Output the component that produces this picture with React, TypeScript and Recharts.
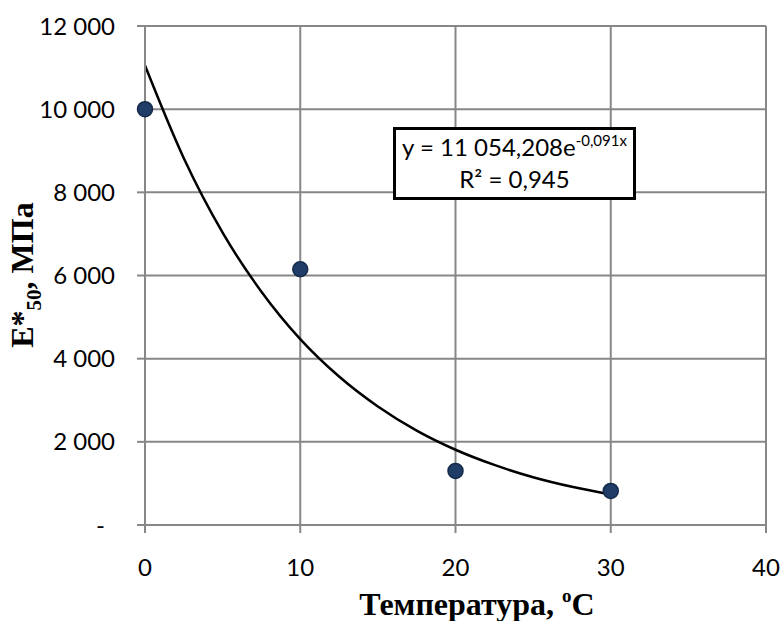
import React from "react";
import {
  ComposedChart,
  Scatter,
  Line,
  XAxis,
  YAxis,
  CartesianGrid,
} from "recharts";

// measured points: temperature (°C) vs E*50 (MPa)
const temperatures = [0, 10, 20, 30];
const modulus = [10000, 6150, 1300, 820];

// exponential trend line
const trendX = [0, 2.5, 5, 7.5, 10, 12.5, 15, 17.5, 20, 22.5, 25, 27.5, 30];
const trendY = [11050, 8820, 7030, 5610, 4470, 3570, 2850, 2270, 1810, 1445, 1150, 920, 735];

const xTicks = [0, 10, 20, 30, 40];
const yTicks = [0, 2000, 4000, 6000, 8000, 10000, 12000];

const equationText = "y = 11 054,208e";
const equationExp = "-0,091x";
const r2Text = "R² = 0,945";

const points = temperatures.map((t, i) => ({ x: t, y: modulus[i] }));
const trend = trendX.map((t, i) => ({ x: t, trend: trendY[i] }));

const gridColor = "#878787";
const tickFont = "Lato, 'Open Sans', sans-serif";
const titleFont = "'Liberation Serif', 'DejaVu Serif', serif";

const fmtY = (v: number) =>
  v === 0 ? "-" : v.toString().replace(/\B(?=(\d{3})+(?!\d))/g, " ");

function YTick(props: any) {
  const { x, y, payload } = props;
  const dash = payload.value === 0;
  return (
    <text
      x={dash ? x - 10 : x}
      y={y}
      dy="0.36em"
      textAnchor="end"
      fill="#000"
      fontSize={24}
      fontFamily={tickFont}
    >
      {fmtY(payload.value)}
    </text>
  );
}

function XTitle() {
  return (
    <text
      x={477}
      y={615}
      textAnchor="middle"
      fill="#000"
      fontSize={32}
      fontWeight="bold"
      fontFamily={titleFont}
    >
      Температура, <tspan fontSize={19} dy={-13}>o</tspan>
      <tspan dy={13}>C</tspan>
    </text>
  );
}

function YTitle() {
  return (
    <text
      transform="translate(33 275) rotate(-90)"
      textAnchor="middle"
      fill="#000"
      fontSize={32}
      fontWeight="bold"
      fontFamily={titleFont}
    >
      E*<tspan fontSize={21} dy={8}>50</tspan>
      <tspan dy={-8}>, МПа</tspan>
    </text>
  );
}

export default function App() {
  return (
    <div style={{ position: "absolute", left: 0, top: 0, width: 784, height: 621, background: "#fff" }}>
      <ComposedChart
        width={784}
        height={621}
        margin={{ top: 26, right: 18, left: 0, bottom: 0 }}
      >
        <CartesianGrid stroke={gridColor} strokeWidth={2} />
        <XAxis
          type="number"
          dataKey="x"
          domain={[0, 40]}
          ticks={xTicks}
          height={96}
          tickSize={8}
          tickMargin={26}
          stroke={gridColor}
          strokeWidth={2}
          tick={{ fill: "#000", fontSize: 24, fontFamily: tickFont }}
          label={<XTitle />}
        />
        <YAxis
          type="number"
          domain={[0, 12000]}
          ticks={yTicks}
          width={145}
          tickSize={8}
          tickMargin={22}
          stroke={gridColor}
          strokeWidth={2}
          tick={<YTick />}
          label={<YTitle />}
        />
        <Line
          data={trend}
          dataKey="trend"
          type="monotone"
          stroke="#000"
          strokeWidth={2.5}
          dot={false}
          activeDot={false}
          isAnimationActive={false}
        />
        <Scatter
          data={points}
          dataKey="y"
          isAnimationActive={false}
          shape={(p: any) => (
            <circle cx={p.cx} cy={p.cy} r={7.5} fill="#1f3d66" stroke="#15294a" strokeWidth={1.5} />
          )}
        />
      </ComposedChart>
      <div
        style={{
          position: "absolute",
          left: 393,
          top: 127,
          width: 237,
          height: 67,
          border: "3px solid #000",
          background: "#fff",
          fontFamily: tickFont,
          fontSize: 24,
          lineHeight: "32px",
          textAlign: "center",
          color: "#000",
          boxSizing: "content-box",
          whiteSpace: "nowrap",
        }}
      >
        <div style={{ marginTop: 1 }}>
          {equationText}
          <span style={{ fontSize: 15, verticalAlign: "10px", lineHeight: 0 }}>{equationExp}</span>
        </div>
        <div>{r2Text}</div>
      </div>
    </div>
  );
}
